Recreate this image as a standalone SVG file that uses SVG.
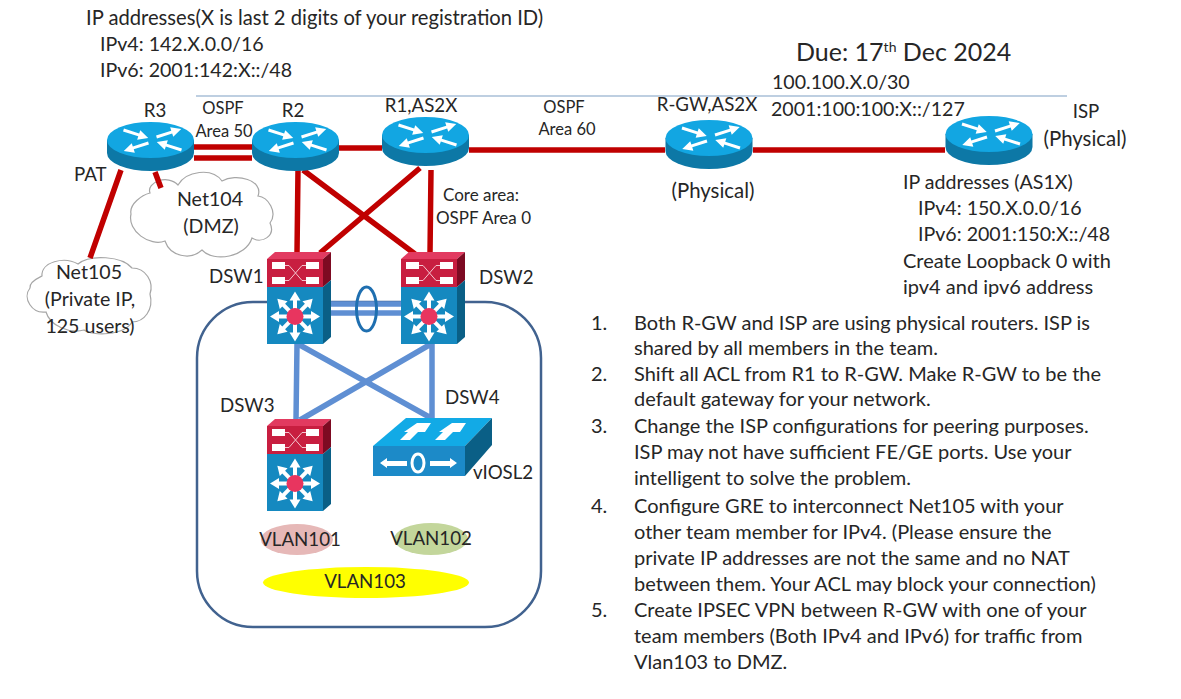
<svg xmlns="http://www.w3.org/2000/svg" width="1181" height="699" viewBox="0 0 1181 699">
<style>
text{font-family:"Lato","Open Sans","Liberation Sans",sans-serif;font-size:19.6px;fill:#262626}
.n text{font-size:20px}
.s{font-size:18.700px}
.o{font-size:16.500px}
.red{stroke:#c00000;stroke-width:5.500;fill:none}
.blu{stroke:#5f8fd3;stroke-width:5.500;fill:none}
.cloud{fill:#fff;stroke:#a6a6a6;stroke-width:1.200}
.w{fill:#fff}
.m{text-anchor:middle}
</style>
<defs>
<path id="ra" d="M0 -1.500 H16 V-5 L26 0 L16 5 V1.500 H0 Z" fill="#fff"/>
<path id="sa" d="M-2 -7 V-16 H-5.500 L0 -25 L5.500 -16 H2 V-7 Z" fill="#fff"/>
<g id="router">
<path d="M-43.500 -8 V5 A43.500 18 0 0 0 43.500 5 V-8 Z" fill="#0d78a6"/>
<ellipse cx="0" cy="-8" rx="43.500" ry="18" fill="#12a6e2"/>
<g transform="translate(2,-8)">
<use href="#ra" transform="translate(-29,-10) rotate(18)"/>
<use href="#ra" transform="translate(29,10) rotate(198)"/>
<use href="#ra" transform="translate(4,-3) rotate(-18)"/>
<use href="#ra" transform="translate(-4,3) rotate(162)"/>
</g>
</g>
<g id="l3">
<path d="M0 7 L8 0 H64 L56 7 Z" fill="#e23a60"/>
<rect x="0" y="7" width="56" height="28" fill="#c81e40"/>
<path d="M56 7 L64 0 V28 L56 35 Z" fill="#7d0a22"/>
<path d="M56 35 L64 28 V85 L56 92 Z" fill="#0a5f86"/>
<rect x="0" y="35" width="56" height="57" fill="#1589c0"/>
<rect x="5" y="10" width="13" height="7" class="w"/><rect x="39" y="10" width="13" height="7" class="w"/>
<rect x="5" y="25" width="13" height="7" class="w"/><rect x="39" y="25" width="13" height="7" class="w"/>
<path d="M18 13.500 H22 L35 28.500 H39 M39 13.500 H35 L22 28.500 H18" fill="none" stroke="#f4c6d0" stroke-width="1"/>
<g transform="translate(28,64.500)">
<use href="#sa"/><use href="#sa" transform="rotate(45)"/><use href="#sa" transform="rotate(90)"/><use href="#sa" transform="rotate(135)"/><use href="#sa" transform="rotate(180)"/><use href="#sa" transform="rotate(225)"/><use href="#sa" transform="rotate(270)"/><use href="#sa" transform="rotate(315)"/>
<circle r="8.500" fill="#e8355f"/>
</g>
</g>
<g id="l2">
<path d="M0 28 L33 0 H119 L92 28 Z" fill="#12aae6"/>
<path d="M92 28 L119 0 V27 L92 58 Z" fill="#0a5f86"/>
<rect x="0" y="28" width="92" height="30" fill="#1c8ac8"/>
<path d="M27 22 L35 14 H31 L44 5 H58 L52 14 H45 L37 22 Z" class="w"/>
<path d="M62 22 L70 14 H66 L79 5 H93 L87 14 H80 L72 22 Z" class="w"/>
<path d="M7 45 L14 40 V43 H34 V48 H14 V50 Z M84 45 L77 40 V43 H57 V48 H77 V50 Z" class="w"/>
<ellipse cx="45" cy="45" rx="6" ry="9" fill="none" stroke="#fff" stroke-width="3"/>
</g>
</defs>
<rect width="1181" height="699" fill="#fff"/>
<path d="M196 96 H1067" stroke="#7f9fc4" stroke-width="1.200" fill="none"/>
<rect id="lan-box" x="197" y="302" width="344" height="325" rx="56" ry="56" fill="none" stroke="#41628f" stroke-width="2.500"/>

<g id="cloud-net104"><path class="cloud" d="M150 193 C146 182 168 174 178 185 C186 171 212 167 222 181 C236 173 264 180 258 196 C268 197 278 212 270 223 C276 236 262 244 252 238 C246 257 214 263 202 250 C190 261 170 256 165 241 C150 247 127 231 131 214 C129 204 142 195 150 193 Z"/><text class="m" x="210" y="206">Net104</text><text class="m" x="211" y="233">(DMZ)</text></g>
<g id="cloud-net105"><path class="cloud" d="M42 276 C41 262 64 256 78 264 C90 254 122 256 132 268 C146 268 154 282 150 294 C154 310 144 322 132 322 C124 336 92 336 84 330 C70 334 50 326 46 312 C32 314 22 298 30 288 C29 282 38 278 42 276 Z"/><text class="m" x="89" y="279">Net105</text><text class="m" x="90" y="306">(Private IP,</text><text class="m" x="90" y="333">125 users)</text></g>

<g id="connectors">
<path class="red" d="M194 147 H252 M194 158 H252 M339 148 H382 M469 150 H665 M753 150 H945"/>
<path class="red" d="M121 170 L90 258 M155 172 L161 188 M298 170 L297 253 M303 170 L415 254 M420 168 L320 253 M431 170 L430 254"/>
<path class="blu" d="M331 304 H402 M331 313 H402 M297 344 L296 420 M298 344 L431 418 M431 344 L300 420 M432 344 L432 418"/>
<ellipse cx="366.500" cy="309" rx="10" ry="22" fill="none" stroke="#1f6fb0" stroke-width="3"/>
</g>

<g id="R3"><use href="#router" x="150.500" y="148"/><text class="m s" x="155" y="117">R3</text></g>
<g id="R2"><use href="#router" x="295.500" y="148"/><text class="m s" x="293" y="117">R2</text></g>
<g id="R1"><use href="#router" x="425.500" y="143"/><text class="m s" x="421" y="112">R1,AS2X</text></g>
<g id="R-GW"><use href="#router" x="709" y="146"/><text class="m s" x="707" y="111">R-GW,AS2X</text><text class="m" x="713" y="198" style="font-size:20.400px">(Physical)</text></g>
<g id="ISP"><use href="#router" x="989" y="142"/><text class="m s" x="1086" y="118">ISP</text><text class="m" x="1085" y="146" style="font-size:20.400px">(Physical)</text></g>
<g id="DSW1"><use href="#l3" x="267" y="252"/><text class="s" x="209" y="283">DSW1</text></g>
<g id="DSW2"><use href="#l3" x="401" y="252"/><text class="s" x="479" y="284">DSW2</text></g>
<g id="DSW3"><use href="#l3" x="267" y="419"/><text class="s" x="220" y="412">DSW3</text></g>
<g id="DSW4"><use href="#l2" x="373" y="418"/><text class="s" x="445" y="404">DSW4</text><text class="s" x="473" y="479">vIOSL2</text></g>
<g id="VLAN101"><ellipse cx="297" cy="539.500" rx="36" ry="15.500" fill="#e6b8b7"/><text class="m s" x="300" y="546">VLAN101</text></g>
<g id="VLAN102"><ellipse cx="431" cy="539" rx="37" ry="16" fill="#c3d69b"/><text class="m s" x="431" y="545">VLAN102</text></g>
<g id="VLAN103"><ellipse cx="366" cy="582.500" rx="103" ry="15.500" fill="#ffff00"/><text class="m s" x="365" y="588">VLAN103</text></g>

<g id="labels" transform="translate(0,1)">
<text x="86" y="24" style="font-size:20.200px">IP addresses(X is last 2 digits of your registration ID)</text>
<text x="100" y="50">IPv4: 142.X.0.0/16</text>
<text x="100" y="76">IPv6: 2001:142:X::/48</text>
<text x="796" y="60" style="font-size:25px">Due: 17<tspan dy="-9" style="font-size:14px">th</tspan><tspan dy="9"> Dec 2024</tspan></text>
<text x="772" y="88">100.100.X.0/30</text>
<text x="771" y="115">2001:100:100:X::/127</text>
<text class="m o" x="223" y="113">OSPF</text>
<text class="m o" x="224" y="136">Area 50</text>
<text class="m o" x="564" y="112">OSPF</text>
<text class="m o" x="567" y="134">Area 60</text>
<text x="443" y="200" style="font-size:17px">Core area:</text>
<text x="436" y="223" style="font-size:17px">OSPF Area 0</text>
<text class="s" x="74" y="180">PAT</text>
<text x="903" y="188">IP addresses (AS1X)</text>
<text x="918" y="214">IPv4: 150.X.0.0/16</text>
<text x="918" y="240">IPv6: 2001:150:X::/48</text>
<text x="903" y="267" style="font-size:20px">Create Loopback 0 with</text>
<text x="903" y="293" style="font-size:20px">ipv4 and ipv6 address</text>
</g>
<g id="notes" class="n" transform="translate(0,1)">
<text x="591" y="329">1.</text><text x="634" y="329">Both R-GW and ISP are using physical routers. ISP is</text>
<text x="634" y="354">shared by all members in the team.</text>
<text x="591" y="380">2.</text><text x="634" y="380">Shift all ACL from R1 to R-GW. Make R-GW to be the</text>
<text x="634" y="405">default gateway for your network.</text>
<text x="591" y="432">3.</text><text x="634" y="432">Change the ISP configurations for peering purposes.</text>
<text x="634" y="458">ISP may not have sufficient FE/GE ports. Use your</text>
<text x="634" y="484">intelligent to solve the problem.</text>
<text x="591" y="512">4.</text><text x="634" y="512">Configure GRE to interconnect Net105 with your</text>
<text x="634" y="538">other team member for IPv4. (Please ensure the</text>
<text x="634" y="564">private IP addresses are not the same and no NAT</text>
<text x="634" y="590">between them. Your ACL may block your connection)</text>
<text x="591" y="616">5.</text><text x="634" y="616">Create IPSEC VPN between R-GW with one of your</text>
<text x="634" y="642">team members (Both IPv4 and IPv6) for traffic from</text>
<text x="634" y="668">Vlan103 to DMZ.</text>
</g>
</svg>
